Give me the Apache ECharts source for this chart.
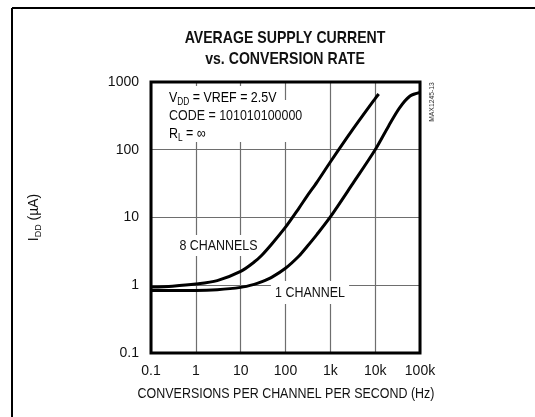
<!DOCTYPE html>
<html>
<head>
<meta charset="utf-8">
<script src="https://cdn.jsdelivr.net/npm/echarts@6/dist/echarts.min.js"></script>
<style>html,body{margin:0;padding:0;background:#fff;}#c{width:535px;height:417px;}</style>
</head>
<body>
<div id="c"></div>
<script>
// ---- data ----
const xTickLabels = ['0.1', '1', '10', '100', '1k', '10k', '100k'];
const yTickLabels = ['0.1', '1', '10', '100', '1000'];
const freq8 = [0.1, 0.3, 1, 3, 10, 20, 30, 50, 100, 200, 300, 500, 1000, 3000, 10000, 12000];
const current8 = [0.94, 0.97, 1.04, 1.17, 1.6, 2.2, 2.8, 4.1, 7.2, 13.8, 20.5, 33, 66, 190, 570, 665];
const freq1 = [0.1, 0.3, 1, 3, 10, 20, 30, 50, 100, 200, 300, 500, 1000, 3000, 10000, 20000, 35000, 60000, 100000];
const current1 = [0.84, 0.84, 0.84, 0.86, 0.93, 1.03, 1.13, 1.32, 1.78, 2.7, 3.7, 5.6, 10.2, 30, 100, 225, 415, 620, 700];

const FONT = "'Liberation Sans', Arial, sans-serif";
const NARROW = 0.83;
const chart = echarts.init(document.getElementById('c'), null, {renderer: 'canvas'});

function tickLabel(arr, v) {
  const i = Math.round(Math.log10(v)) + 1;
  return arr[i] !== undefined ? arr[i] : '';
}
const pairs = (xs, ys) => xs.map((x, i) => [x, ys[i]]);
const rich = {
  n: {fontFamily: FONT, fontSize: 15, color: '#111', lineHeight: 18},
  s: {fontFamily: FONT, fontSize: 10, color: '#111', lineHeight: 10, verticalAlign: 'bottom'}
};
const richY = {
  n: {fontFamily: FONT, fontSize: 14, color: '#111', lineHeight: 17},
  s: {fontFamily: FONT, fontSize: 9, color: '#111', lineHeight: 9, verticalAlign: 'bottom'}
};

const option = {
  animation: false,
  backgroundColor: '#fff',
  grid: {left: 151, right: 115, top: 82, bottom: 64, show: true, borderColor: '#000', borderWidth: 3, backgroundColor: 'transparent', z: 3},
  xAxis: {
    type: 'log', logBase: 10, min: 0.1, max: 100000,
    axisLine: {show: false}, axisTick: {show: false}, minorTick: {show: false},
    splitLine: {show: true, lineStyle: {color: '#6e6e6e', width: 1.2}},
    axisLabel: {margin: 11, fontFamily: FONT, fontSize: 14, color: '#111', formatter: v => tickLabel(xTickLabels, v)}
  },
  yAxis: {
    type: 'log', logBase: 10, min: 0.1, max: 1000,
    axisLine: {show: false}, axisTick: {show: false}, minorTick: {show: false},
    splitLine: {show: true, lineStyle: {color: '#6e6e6e', width: 1.2}},
    axisLabel: {margin: 12, fontFamily: FONT, fontSize: 14, color: '#111', formatter: v => tickLabel(yTickLabels, v)},
    name: '{n|I}{s|DD}{n| (µA)}', nameLocation: 'middle', nameGap: 108, nameRotate: 90,
    nameTextStyle: {rich: richY}
  },
  series: [
    {name: '8 CHANNELS', type: 'line', data: pairs(freq8, current8), showSymbol: false, smooth: 0.3,
     lineStyle: {color: '#000', width: 3}, z: 5},
    {name: '1 CHANNEL', type: 'line', data: pairs(freq1, current1), showSymbol: false, smooth: 0.3,
     lineStyle: {color: '#000', width: 3}, z: 5}
  ],
  graphic: [
    {type: 'line', shape: {x1: 12, y1: 8, x2: 535, y2: 8}, style: {stroke: '#000', lineWidth: 2}},
    {type: 'line', shape: {x1: 12, y1: 8, x2: 12, y2: 417}, style: {stroke: '#000', lineWidth: 2}},
    {type: 'text', x: 285, y: 38, scaleX: NARROW, style: {text: 'AVERAGE SUPPLY CURRENT', fontFamily: FONT, fontWeight: 'bold', fontSize: 17, fill: '#111', align: 'center', verticalAlign: 'middle'}},
    {type: 'text', x: 285, y: 59, scaleX: NARROW, style: {text: 'vs. CONVERSION RATE', fontFamily: FONT, fontWeight: 'bold', fontSize: 17, fill: '#111', align: 'center', verticalAlign: 'middle'}},
    {type: 'text', x: 286, y: 394, scaleX: NARROW, style: {text: 'CONVERSIONS PER CHANNEL PER SECOND (Hz)', fontFamily: FONT, fontSize: 15, fill: '#111', align: 'center', verticalAlign: 'middle'}},
    {type: 'rect', z: 2, shape: {x: 153, y: 86, width: 130, height: 16}, style: {fill: '#fff'}},
    {type: 'rect', z: 2, shape: {x: 153, y: 100, width: 161, height: 42}, style: {fill: '#fff'}},
    {type: 'text', z: 2, x: 169, y: 98, scaleX: NARROW, style: {text: '{n|V}{s|DD}{n| = VREF = 2.5V}', rich: rich, verticalAlign: 'middle'}},
    {type: 'text', z: 2, x: 169, y: 116, scaleX: NARROW, style: {text: 'CODE = 101010100000', fontFamily: FONT, fontSize: 15, fill: '#111', verticalAlign: 'middle'}},
    {type: 'text', z: 2, x: 169, y: 134, scaleX: NARROW, style: {text: '{n|R}{s|L}{n| = ∞}', rich: rich, verticalAlign: 'middle'}},
    {type: 'text', z: 2, x: 218.5, y: 245.5, scaleX: NARROW, style: {text: '8 CHANNELS', fontFamily: FONT, fontSize: 15, fill: '#111', align: 'center', verticalAlign: 'middle', backgroundColor: '#fff', padding: [3, 3]}},
    {type: 'text', z: 2, x: 310, y: 292.5, scaleX: NARROW, style: {text: '1 CHANNEL', fontFamily: FONT, fontSize: 15, fill: '#111', align: 'center', verticalAlign: 'middle', backgroundColor: '#fff', padding: [4, 5]}},
    {type: 'text', z: 2, x: 432, y: 102, rotation: Math.PI / 2, scaleX: 0.85, style: {text: 'MAX1245-13', fontFamily: FONT, fontSize: 8, fill: '#333', align: 'center', verticalAlign: 'middle'}}
  ]
};
chart.setOption(option);
</script>
</body>
</html>
